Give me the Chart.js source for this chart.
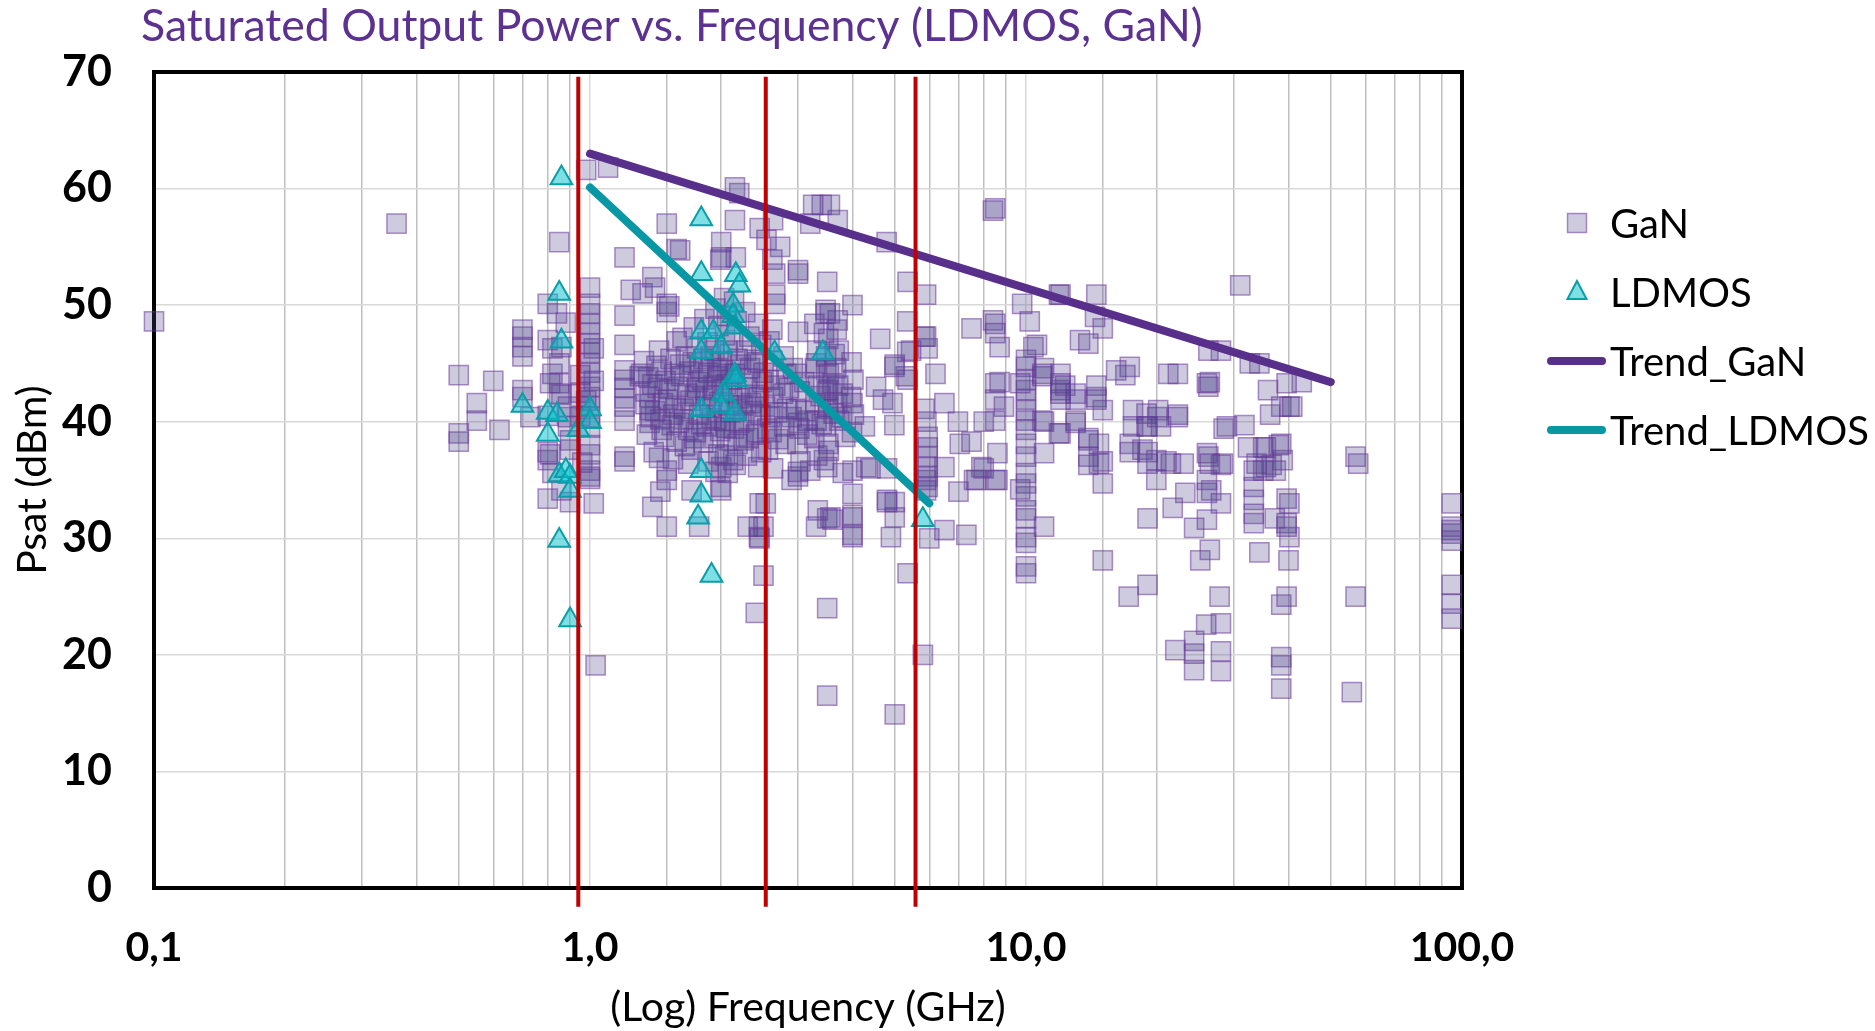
<!DOCTYPE html>
<html>
<head>
<meta charset="utf-8">
<title>Saturated Output Power vs. Frequency</title>
<script src="https://cdn.jsdelivr.net/npm/chart.js@4"></script>
<style>
  html, body { margin: 0; padding: 0; background: #fff; }
  canvas { display: block; }
</style>
</head>
<body>
<canvas id="myChart" width="1875" height="1031"></canvas>
<script>
// GaN devices: [frequency GHz, Psat dBm]
var ganPoints = [
  [0.1,48.6],[0.36,57.0],
  [0.5,44.0],[0.5,39.0],[0.5,38.3],[0.55,41.6],[0.55,40.1],[0.6,43.5],[0.62,39.3],
  [0.7,47.9],[0.7,47.3],[0.7,46.4],[0.7,45.6],[0.7,42.7],[0.7,42.1],[0.73,40.4],
  [0.8,50.1],[0.84,49.3],[0.8,47.0],[0.82,46.3],[0.82,44.1],[0.85,45.0],[0.85,43.3],[0.85,42.4],
  [0.89,41.3],[0.89,40.4],[0.89,39.6],[0.9,38.4],[0.9,37.6],[0.8,37.4],[0.8,36.7],[0.8,33.4],
  [0.85,55.4],[0.88,48.5],[0.86,46.4],[0.81,43.3],[0.86,42.3],[0.8,40.5],[0.81,37.2],[0.82,35.6],
  [0.86,34.1],[0.9,33.1],[0.98,61.6],[1.1,61.8],[1.02,33.0],[1.03,19.1],
  [1.0,51.5],[1.0,50.1],[1.0,49.3],[1.0,48.4],[1.0,47.6],[1.0,46.7],[1.0,45.9],[1.0,45.0],
  [1.0,43.0],[1.0,42.1],[1.0,41.3],[1.0,39.5],[1.0,38.0],[1.0,35.8],[1.0,35.1],[1.0,35.3],
  [1.0,44.2],[1.0,40.4],[1.0,37.2],[1.02,43.5],[1.02,46.3],[0.98,41.8],
  [0.95,44.0],[0.95,42.5],[0.95,40.5],[0.96,36.5],
  [1.2,54.1],[1.2,49.1],[1.2,46.6],[1.2,44.4],[1.2,43.6],[1.2,42.9],[1.2,42.0],[1.2,41.3],
  [1.2,40.1],[1.2,37.0],[1.2,36.6],[1.24,51.3],[1.32,51.0],[1.39,52.4],[1.5,50.1],[1.5,49.4],
  [1.52,49.9],[1.58,46.9],[1.3,43.9],[1.37,42.1],[1.37,41.0],[1.37,39.9],
  [1.5,35.8],[1.45,34.0],[1.39,32.7],[1.5,31.0],[1.68,36.4],[1.71,34.1],[1.78,31.0],[1.99,34.4],
  [1.5,35.0],[1.5,57.0],[1.61,54.7],[1.41,51.5],[1.58,54.8],
  [2.15,60.1],[2.2,59.6],[2.63,57.3],[2.45,56.6],[2.15,57.3],[2.0,55.4],[2.0,54.1],[1.99,53.9],
  [2.16,54.1],[2.54,55.6],[2.73,55.0],[2.62,53.9],[2.66,52.7],[3.0,53.0],[3.0,52.7],[3.5,52.0],
  [3.47,49.3],[3.55,49.3],[4.0,50.0],[3.7,48.7],[3.4,58.6],[3.25,58.6],[3.55,58.6],[3.2,57.0],
  [3.7,57.3],[2.66,50.9],[2.66,50.1],[2.62,47.9],[3.0,47.7],[3.44,47.6],[4.63,47.1],[4.99,44.7],
  [5.34,48.6],[5.34,46.0],[5.3,43.9],[5.85,47.3],[5.95,46.3],[6.2,44.1],[5.35,52.0],[5.9,50.9],
  [4.79,55.4],[8.4,58.1],[8.5,58.3],[7.5,48.0],[8.4,48.7],[8.7,46.4],
  [5.85,41.1],[5.91,40.0],[5.95,38.7],[5.95,37.8],[5.95,37.0],[5.95,36.1],[5.95,35.3],[5.95,34.4],
  [6.5,41.6],[6.5,36.1],[6.98,40.0],[7.05,38.1],[7.5,38.3],[8.0,40.0],[8.0,36.0],[8.6,37.3],
  [8.6,35.0],[7.7,35.0],[7.0,34.0],[7.3,30.3],[6.5,30.7],[6.0,30.0],[5.0,31.8],[4.9,30.1],
  [4.8,33.3],[4.3,36.1],[4.0,33.8],[4.0,31.8],[4.0,30.1],[3.56,31.8],[3.33,32.4],[3.44,36.7],
  [3.53,37.5],[3.0,35.3],[2.63,36.0],[2.44,31.0],[2.44,30.1],[2.53,33.0],
  [4.7,41.9],[4.94,41.6],[4.53,43.0],[4.27,39.6],[4.99,39.7],[4.0,41.6],[3.78,40.4],[3.0,39.9],
  [3.16,40.1],[3.52,41.3],[3.52,42.7],[3.48,44.4],[3.3,45.0],[3.64,45.8],
  [5.0,44.9],[5.35,43.6],[5.45,46.1],[5.9,47.3],
  [2.0,34.1],[2.0,36.1],[2.16,36.3],[2.45,33.0],[2.3,31.0],[2.5,31.0],[2.45,30.0],[2.5,26.8],
  [2.4,23.6],[3.5,24.0],[3.5,16.5],[5.0,14.9],[5.8,20.0],[5.35,27.0],[3.5,31.7],[3.6,31.6],
  [3.3,31.0],[4.0,32.0],[4.0,30.3],[5.0,33.1],[4.8,33.1],[5.9,35.0],[5.9,34.1],[7.6,35.0],
  [7.9,36.1],[2.9,35.0],[3.0,35.7],[3.2,35.8],[3.5,36.1],[3.8,35.6],[4.0,35.8],[4.4,36.0],[4.8,36.0],
  [1.33,45.2],[1.36,43.8],[1.34,42.6],[1.38,40.4],[1.35,38.9],[1.4,37.4],
  [1.44,46.1],[1.46,44.3],[1.43,42.9],[1.47,41.6],[1.45,40.2],[1.48,38.7],[1.44,36.9],
  [1.53,45.4],[1.56,44.1],[1.52,42.8],[1.57,41.2],[1.54,39.7],[1.58,38.3],[1.55,36.8],
  [1.63,47.2],[1.66,45.6],[1.62,43.9],[1.67,42.4],[1.64,41.1],[1.68,39.3],[1.65,37.9],
  [1.73,48.1],[1.76,46.3],[1.72,45.1],[1.77,43.4],[1.74,42.2],[1.78,40.6],[1.75,39.1],[1.71,37.6],
  [1.83,48.8],[1.86,46.8],[1.82,45.4],[1.87,44.2],[1.84,42.7],[1.88,41.2],[1.85,39.6],[1.82,38.2],[1.87,36.6],
  [1.94,49.7],[1.97,48.2],[1.93,46.1],[1.96,44.6],[1.92,43.1],[1.98,41.7],[1.95,40.1],[1.93,38.6],[1.97,37.2],[1.94,35.7],
  [2.03,50.6],[2.06,49.1],[2.04,47.4],[2.07,46.1],[2.02,44.4],[2.05,43.2],[2.08,41.4],[2.03,40.1],[2.06,38.4],[2.04,37.1],[2.07,35.6],
  [2.14,50.3],[2.17,48.6],[2.13,46.8],[2.18,45.4],[2.15,44.1],[2.12,42.6],[2.17,41.1],[2.14,39.4],[2.18,38.1],[2.13,36.7],
  [2.27,49.4],[2.32,47.3],[2.28,46.1],[2.33,44.6],[2.29,42.9],[2.34,41.6],[2.26,40.1],[2.31,38.6],[2.29,37.1],
  [2.43,48.4],[2.47,46.6],[2.42,45.1],[2.48,43.4],[2.44,42.1],[2.46,40.6],[2.41,39.1],[2.47,37.4],[2.43,36.1],
  [2.58,46.9],[2.62,45.2],[2.57,43.6],[2.63,42.1],[2.59,40.4],[2.61,39.1],[2.56,37.6],
  [2.78,45.6],[2.82,44.1],[2.77,42.4],[2.83,41.1],[2.79,39.6],[2.81,38.1],
  [2.98,44.1],[3.03,42.6],[2.97,41.1],[3.02,39.4],[2.99,38.1],[3.04,36.6],
  [3.27,48.4],[3.32,46.1],[3.28,44.6],[3.33,43.1],[3.29,41.6],[3.31,40.1],[3.27,38.6],[3.32,37.1],
  [3.47,49.6],[3.52,47.1],[3.48,45.6],[3.53,44.1],[3.49,42.6],[3.51,41.1],[3.47,39.6],[3.52,38.1],
  [3.68,47.9],[3.72,46.1],[3.67,44.6],[3.71,43.1],[3.69,41.6],[3.73,40.1],
  [3.98,45.1],[4.02,43.6],[3.97,42.1],[4.03,40.6],[3.99,39.1],
  [1.31,44.1],[1.34,41.5],[1.39,43.2],[1.42,44.8],[1.41,40.9],[1.46,39.3],[1.49,43.5],[1.51,41.9],
  [1.55,40.6],[1.59,43.0],[1.61,44.9],[1.6,39.9],[1.64,40.2],[1.69,44.3],[1.7,41.8],[1.73,38.6],
  [1.76,42.9],[1.79,44.6],[1.8,39.8],[1.81,43.6],[1.84,41.3],[1.89,45.6],[1.9,40.3],[1.91,42.2],
  [1.96,43.9],[1.99,39.2],[2.0,45.2],[2.01,42.8],[2.05,39.5],[2.09,44.1],[2.1,40.8],[2.11,43.6],
  [2.19,42.0],[2.2,39.9],[2.22,44.9],[2.24,41.4],[2.25,38.4],[2.3,43.7],[2.35,40.9],[2.38,45.3],
  [2.39,42.3],[2.4,38.9],[2.5,44.2],[2.52,41.3],[2.55,39.4],[2.66,43.1],[2.69,40.8],[2.7,38.5],
  [2.86,42.9],[2.9,40.4],[2.92,44.6],[3.1,43.4],[3.12,40.9],[3.15,38.9],[3.38,42.2],[3.4,39.8],
  [3.6,43.3],[3.62,40.7],[3.8,42.4],[3.85,38.7],
  [9.8,50.1],[10.2,48.6],[10.4,46.4],[10.6,46.6],[10.0,44.7],[10.0,43.6],[10.0,42.7],[10.0,41.9],
  [10.0,41.0],[10.0,40.1],[10.0,39.3],[10.0,38.1],[10.0,37.0],[10.0,35.6],[10.0,34.7],[10.0,33.6],
  [10.0,32.4],[10.0,31.7],[10.0,30.1],[10.0,29.6],[10.0,27.0],[10.0,27.6],[10.9,43.9],[11.0,44.6],
  [12.0,42.7],[12.0,41.9],[11.0,40.0],[12.0,39.0],[11.0,37.3],[8.9,41.3],[8.5,43.3],[9.7,43.3],
  [8.5,48.4],[8.5,47.6],[11.9,50.9],[13.3,47.0],[13.0,40.1],[8.7,43.4],[8.5,41.9],[8.5,40.1],
  [8.5,35.0],[9.7,34.2],[11.0,31.0],[10.0,45.3],
  [12.0,50.9],[14.5,50.9],[14.4,49.0],[15.0,48.0],[13.9,46.7],[31.0,51.7],[26.2,46.1],[28.0,46.1],
  [32.6,45.0],[34.3,45.0],[42.9,43.4],[39.6,43.3],[35.9,42.7],[38.5,41.3],[40.2,41.3],[40.8,41.3],
  [36.3,40.6],[26.2,43.0],[26.4,43.4],[21.2,44.1],[17.3,44.7],[16.9,44.0],[16.1,44.4],[12.0,44.1],
  [12.0,43.3],[12.0,42.4],[10.9,44.1],[13.0,42.4],[13.0,41.9],[14.5,42.1],[15.0,41.0],[13.0,39.9],
  [10.9,40.1],[11.9,39.0],[13.9,38.4],[14.7,38.1],[13.9,37.0],[14.7,36.4],[17.6,41.0],[18.9,40.7],
  [20.1,41.0],[17.6,39.6],[18.9,39.6],[20.4,39.6],[22.3,40.4],[17.3,38.1],[18.5,37.6],[19.9,36.7],
  [21.5,36.4],[23.0,36.4],[26.2,37.0],[28.3,36.4],[28.9,39.6],[31.7,39.7],[32.3,37.8],[35.5,37.8],
  [38.5,38.1],[33.8,36.4],[36.6,36.3],[38.8,36.7],[57.0,37.0],[57.8,36.4],[22.3,40.6],[12.3,43.1],
  [14.5,43.1],[14.5,41.9],[13.9,38.6],[15.0,36.6],[15.0,34.7],[17.3,37.4],[19.0,39.6],[19.0,37.4],
  [19.0,36.4],[20.0,40.4],[21.0,36.6],[19.9,35.0],[22.3,44.1],[26.0,43.3],[28.4,39.4],[35.0,37.8],
  [38.0,38.0],[35.0,35.8],[33.3,34.4],[33.3,33.3],[33.3,32.1],[33.3,31.3],[39.6,33.4],[39.6,31.3],
  [40.2,30.1],[26.0,37.3],[26.4,36.4],[28.0,36.3],[26.0,35.0],[26.0,33.9],[26.6,34.1],[28.0,33.0],
  [26.0,31.6],[23.2,33.9],[21.7,32.6],[19.0,31.7],[24.3,30.9],[26.4,29.0],[25.1,28.1],[34.3,28.8],
  [40.0,28.1],[15.0,28.1],[17.2,25.0],[19.0,26.0],[27.8,25.0],[25.9,22.6],[28.0,22.7],[28.0,20.3],
  [28.0,18.6],[22.0,20.4],[24.3,20.1],[24.3,18.7],[24.3,21.2],[33.3,35.8],[35.5,36.1],[37.4,35.8],
  [40.2,33.0],[37.2,31.7],[39.6,31.0],[38.5,24.3],[39.6,25.0],[38.5,19.8],[38.5,19.1],[38.5,17.1],
  [55.9,16.8],[57.0,25.0],[13.9,36.3],
  [94.7,33.0],[94.7,31.0],[94.7,30.4],[94.7,29.8],[94.7,30.7],[94.7,26.0],[94.7,24.4],[94.7,23.1]
];

// LDMOS devices: [frequency GHz, Psat dBm]
var ldmosPoints = [
  [0.86,60.9],[0.85,51.0],[0.86,46.9],[0.70,41.4],[0.80,40.8],[0.84,40.6],[0.80,38.9],
  [1.0,41.1],[1.0,40.0],[0.94,39.3],[0.85,35.4],[0.88,35.8],[0.90,35.3],[0.90,34.1],
  [0.85,29.8],[0.90,23.0],
  [1.80,57.4],[1.80,52.7],[2.16,52.6],[2.20,51.7],[2.13,50.0],[2.13,49.1],[2.15,48.1],
  [1.80,47.7],[1.92,47.7],[1.80,46.0],[2.00,46.4],[2.65,45.9],[3.42,45.9],[2.15,44.0],
  [2.16,43.6],[2.02,42.4],[2.00,41.3],[1.80,41.0],[2.15,40.7],[1.80,35.8],[1.80,33.7],
  [1.77,31.8],[1.90,26.8],[5.8,31.6]
];

// logarithmic trend lines: [frequency GHz, Psat dBm] end points
var trendGaN = [[1.0, 63.0], [50.0, 43.4]];
var trendLDMOS = [[1.0, 60.1], [6.0, 33.0]];

// band markers (GHz)
var bandMarkers = [0.94, 2.53, 5.58];

var xTicks = [0.1, 1, 10, 100];

function toXY(list) {
  return list.map(function (p) { return { x: p[0], y: p[1] }; });
}
function isDecade(v) {
  var l = Math.log10(v);
  return Math.abs(l - Math.round(l)) < 1e-9;
}

Chart.defaults.font.family = 'Lato';
Chart.defaults.color = '#000';

var purple = '#58308c';
var teal = '#0897a4';
var ganFill = 'rgba(78, 68, 140, 0.28)';
var ganLine = 'rgba(105, 55, 155, 0.55)';

var datasets = [];
bandMarkers.forEach(function (f) {
  datasets.push({
    type: 'line',
    label: 'band ' + f,
    data: [{ x: f, y: 69.6 }, { x: f, y: -1.6 }],
    borderColor: '#c00000',
    borderWidth: 4,
    pointRadius: 0,
    clip: false,
    order: 0
  });
});
datasets.push({
  type: 'line', label: 'Trend_GaN', data: toXY(trendGaN),
  borderColor: purple, borderWidth: 8, borderCapStyle: 'round',
  pointRadius: 0, order: 1
});
datasets.push({
  type: 'line', label: 'Trend_LDMOS', data: toXY(trendLDMOS),
  borderColor: teal, borderWidth: 8, borderCapStyle: 'round',
  pointRadius: 0, order: 1
});
datasets.push({
  label: 'LDMOS', data: toXY(ldmosPoints),
  pointStyle: 'triangle', pointRadius: 12.5,
  backgroundColor: 'rgba(0, 192, 204, 0.5)',
  borderColor: '#0a9ea8', borderWidth: 2, clip: false, order: 2
});
datasets.push({
  label: 'GaN', data: toXY(ganPoints),
  pointStyle: 'rect', pointRadius: 13.6,
  backgroundColor: ganFill,
  borderColor: ganLine, borderWidth: 1.5, clip: false, order: 3
});

// frame around the plot area
var framePlugin = {
  id: 'frame',
  beforeDatasetsDraw: function (chart) {
    var a = chart.chartArea, c = chart.ctx;
    c.save();
    c.strokeStyle = '#000';
    c.lineWidth = 4;
    c.strokeRect(a.left, a.top, a.right - a.left, a.bottom - a.top);
    c.restore();
  }
};

// title and legend
var legendItems = [
  { text: 'GaN', kind: 'rect' },
  { text: 'LDMOS', kind: 'triangle' },
  { text: 'Trend_GaN', kind: 'line', color: purple },
  { text: 'Trend_LDMOS', kind: 'line', color: teal }
];
var textPlugin = {
  id: 'texts',
  afterDraw: function (chart) {
    var c = chart.ctx;
    c.save();
    c.fillStyle = '#5c3191';
    c.font = '44.6px Lato';
    c.textBaseline = 'middle';
    c.textAlign = 'left';
    c.fillText('Saturated Output Power vs. Frequency (LDMOS, GaN)', 141, 27);

    var y0 = 223, dy = 69, mx = 1577;
    legendItems.forEach(function (it, i) {
      var y = y0 + i * dy;
      if (it.kind === 'rect') {
        c.fillStyle = ganFill;
        c.strokeStyle = ganLine;
        c.lineWidth = 1.5;
        c.fillRect(mx - 9.5, y - 9.5, 19, 19);
        c.strokeRect(mx - 9.5, y - 9.5, 19, 19);
      } else if (it.kind === 'triangle') {
        c.beginPath();
        c.moveTo(mx, y - 11);
        c.lineTo(mx + 9.5, y + 7);
        c.lineTo(mx - 9.5, y + 7);
        c.closePath();
        c.fillStyle = 'rgba(0, 192, 204, 0.5)';
        c.fill();
        c.strokeStyle = '#0a9ea8';
        c.lineWidth = 2;
        c.stroke();
      } else {
        c.beginPath();
        c.moveTo(1551, y);
        c.lineTo(1602, y);
        c.strokeStyle = it.color;
        c.lineWidth = 8;
        c.lineCap = 'round';
        c.stroke();
      }
      c.fillStyle = '#000';
      c.font = '40px Lato';
      c.fillText(it.text, 1610, y + 2);
    });
    c.restore();
  }
};

var ctx = document.getElementById('myChart').getContext('2d');
var myChart = new Chart(ctx, {
  type: 'scatter',
  data: { datasets: datasets },
  options: {
    responsive: false,
    animation: false,
    devicePixelRatio: 1,
    layout: { padding: { left: 0, right: 413, top: 72, bottom: 0 } },
    plugins: {
      legend: { display: false },
      tooltip: { enabled: false },
      title: { display: false }
    },
    scales: {
      x: {
        type: 'logarithmic',
        min: 0.1,
        max: 100,
        afterFit: function (scale) { scale.height = 143; },
        border: { display: false },
        grid: {
          drawTicks: false,
          lineWidth: 1.5,
          color: function (c) {
            if (!c.tick) return '#bfbfbf';
            return isDecade(c.tick.value) ? '#d9d9d9' : '#bfbfbf';
          }
        },
        ticks: {
          autoSkip: false,
          maxRotation: 0,
          padding: 35,
          font: { size: 41, weight: 'bold' },
          callback: function (v) {
            return xTicks.indexOf(Number(v)) >= 0 || isDecade(v) ? Number(v).toFixed(1).replace('.', ',') : '';
          }
        },
        title: {
          display: true,
          text: '(Log) Frequency (GHz)',
          font: { size: 41, lineHeight: 1.2 },
          padding: { top: 0, bottom: -1 }
        }
      },
      y: {
        min: 0,
        max: 70,
        afterFit: function (scale) { scale.width = 154; },
        border: { display: false },
        grid: { drawTicks: false, color: '#d9d9d9', lineWidth: 1.5 },
        ticks: {
          stepSize: 10,
          padding: 42,
          font: { size: 43, weight: 'bold' }
        },
        title: {
          display: true,
          text: 'Psat (dBm)',
          font: { size: 41, lineHeight: 1.2 },
          padding: { top: 8, bottom: 0 }
        }
      }
    }
  },
  plugins: [framePlugin, textPlugin]
});
</script>
</body>
</html>
